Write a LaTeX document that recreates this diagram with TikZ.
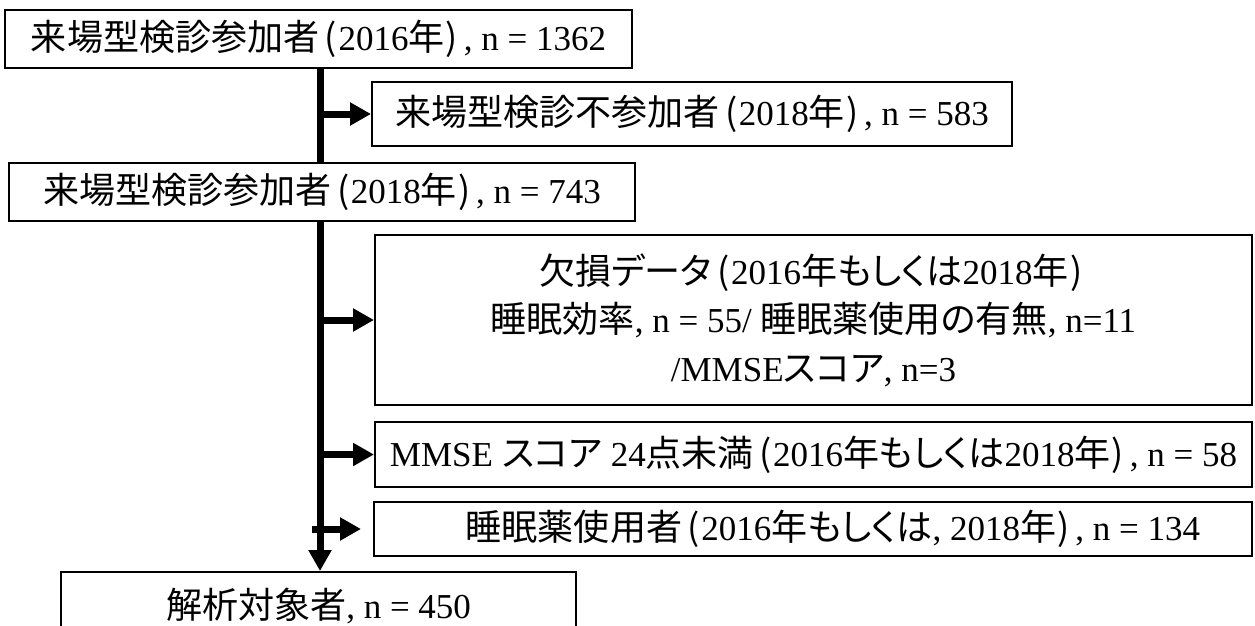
\documentclass[tikz,border=0pt]{standalone}
\usepackage{fontspec}
\setmainfont{Liberation Serif}
\newfontfamily\jp[RawFeature=+palt, Scale=1.03]{Noto Sans CJK JP}
\usetikzlibrary{arrows.meta}
\newcommand\J[1]{{\jp #1}}
\newcommand\LP{\kern0.16em{\jp (}\kern0.04em}
\newcommand\RP{\kern0.04em{\jp )}\kern0.16em}
\begin{document}
\begin{tikzpicture}[x=1pt,y=-1pt,
  box/.style={draw, line width=2pt, inner sep=0pt, align=center,
    font=\fontsize{35}{48.5}\selectfont},
  spineline/.style={line width=7pt},
  flow/.style={line width=7pt, -{Triangle[length=21pt,width=22pt]}}]
\fill[white] (0,0) rectangle (1255,626);
\clip (0,0) rectangle (1255,626);
\coordinate (spine) at (320,0);
\node[box, minimum width=627pt, minimum height=58pt] (box1) at (318.5,39)
  {\J{来場型検診参加者}\LP 2016\J{年}\RP, n = 1362};
\node[box, minimum width=640pt, minimum height=64pt] (box2) at (692,114)
  {\J{来場型検診不参加者}\LP 2018\J{年}\RP, n = 583};
\node[box, minimum width=626pt, minimum height=58pt] (box3) at (322,192)
  {\J{来場型検診参加者}\LP 2018\J{年}\RP, n = 743};
\node[box, minimum width=877pt, minimum height=170pt] (box4) at (813.5,320)
  {\J{欠損データ}\LP 2016\J{年もしくは}2018\J{年}\RP\\
   \J{睡眠効率}, n = 55/ \J{睡眠薬使用の有無}, n=11\\
   /MMSE\J{スコア}, n=3};
\node[box, minimum width=877pt, minimum height=65pt] (box5) at (813.5,454.5)
  {MMSE \J{スコア} 24\J{点未満}\LP 2016\J{年もしくは}2018\J{年}\RP, n = 58};
\node[box, minimum width=878pt, minimum height=54pt] (box6) at (813,529)
  {\hspace*{40pt}\J{睡眠薬使用者}\LP 2016\J{年もしくは}, 2018\J{年}\RP, n = 134};
\node[box, minimum width=515pt, minimum height=68pt] (box7) at (318.5,606)
  {\raisebox{6pt}{\J{解析対象者}, n = 450}};
\draw[spineline] (box1.south -| spine) -- (box3.north -| spine);
\draw[flow] (box3.south -| spine) -- (box7.north -| spine);
\draw[flow] (spine |- box2.west) -- (box2.west);
\draw[flow] (spine |- box4.west) -- (box4.west);
\draw[flow] (spine |- box5.west) -- (box5.west);
\draw[flow, shorten >=12pt] ([xshift=-8pt]spine |- box6.west) -- (box6.west);
\end{tikzpicture}
\end{document}
